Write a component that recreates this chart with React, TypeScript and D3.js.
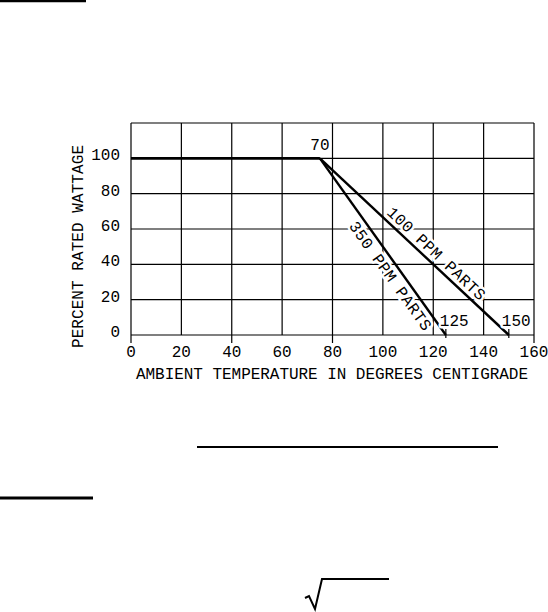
import React from "react";
import * as d3 from "d3";

// ---- data ----
const xTicks = [0, 20, 40, 60, 80, 100, 120, 140, 160];
const yTicks = [0, 20, 40, 60, 80, 100];
const xMajorTicks = [0, 40, 80, 160];
const flatX = [0, 75];
const flatY = [100, 100];
const ppm100X = [75, 150];
const ppm100Y = [100, 0];
const ppm350X = [75, 125];
const ppm350Y = [100, 0];
const kneeLabel = "70";
const end100Label = "150";
const end350Label = "125";
const ppm100Label = "100 PPM PARTS";
const ppm350Label = "350 PPM PARTS";
const xTitle = "AMBIENT TEMPERATURE IN DEGREES CENTIGRADE";
const yTitle = "PERCENT RATED WATTAGE";

const FONT = "'Liberation Mono', 'DejaVu Sans Mono', monospace";
const FS = 16;

export default function App() {
  const x = d3.scaleLinear().domain([0, 160]).range([131, 534]);
  const y = d3.scaleLinear().domain([0, 120]).range([335, 123]);
  const line = d3
    .line<[number, number]>()
    .x((d) => x(d[0]))
    .y((d) => y(d[1]));
  const zip = (a: number[], b: number[]) => a.map((v, i) => [v, b[i]] as [number, number]);

  const along = (xs: number[], ys: number[], t: number, d: number, side: 1 | -1) => {
    const x0 = x(xs[0]), y0 = y(ys[0]), x1 = x(xs[1]), y1 = y(ys[1]);
    const th = Math.atan2(y1 - y0, x1 - x0);
    const px = x0 + t * (x1 - x0), py = y0 + t * (y1 - y0);
    const cx = px + side * d * Math.sin(th);
    const cy = py - side * d * Math.cos(th);
    return { cx, cy, deg: (th * 180) / Math.PI };
  };
  const l100 = along(ppm100X, ppm100Y, 0.58, 10.5, 1);
  const l350 = along(ppm350X, ppm350Y, 0.63, 10.5, -1);

  const halo = { paintOrder: "stroke" as const, stroke: "#fff", strokeWidth: 5, strokeLinejoin: "round" as const };

  return (
    <svg
      width={548}
      height={612}
      style={{ position: "absolute", left: 0, top: 0, background: "#fff" }}
      fontFamily={FONT}
    >
      <rect width={548} height={612} fill="#fff" />
      {/* page decorations */}
      <line x1={0} x2={86} y1={1} y2={1} stroke="#000" strokeWidth={2.5} />
      <line x1={197} x2={498} y1={447} y2={447} stroke="#000" strokeWidth={2} />
      <line x1={0} x2={93} y1={498} y2={498} stroke="#000" strokeWidth={3} />
      <path d="M305,598 L309,596 L315,609 L322,579 L389,579" fill="none" stroke="#000" strokeWidth={2} />

      {/* grid */}
      {xTicks.map((t) => (
        <line key={"vx" + t} x1={x(t)} x2={x(t)} y1={y(120)} y2={y(0)} stroke="#000" strokeWidth={1.2} />
      ))}
      {yTicks.map((t) => (
        <line key={"hy" + t} x1={x(0)} x2={x(160)} y1={y(t)} y2={y(t)} stroke="#000" strokeWidth={1.2} />
      ))}
      <line x1={x(0)} x2={x(160)} y1={y(120)} y2={y(120)} stroke="#000" strokeWidth={1.2} />
      {xMajorTicks.map((t) => (
        <line key={"mt" + t} x1={x(t)} x2={x(t)} y1={y(0)} y2={y(0) + 8} stroke="#000" strokeWidth={1.2} />
      ))}

      {/* tick labels */}
      {xTicks.map((t) => (
        <text key={"xl" + t} x={x(t)} y={357} textAnchor="middle" fontSize={FS} fill="#000">
          {t}
        </text>
      ))}
      {yTicks.map((t) => (
        <text key={"yl" + t} x={120} y={y(t) + 2} textAnchor="end" fontSize={FS} fill="#000">
          {t}
        </text>
      ))}

      {/* axis titles */}
      <text x={136} y={379} fontSize={FS} textLength={392} lengthAdjust="spacing" fill="#000">
        {xTitle}
      </text>
      <text
        transform={`translate(83,348) rotate(-90)`}
        fontSize={FS}
        textLength={203}
        lengthAdjust="spacing"
        fill="#000"
      >
        {yTitle}
      </text>

      {/* line labels */}
      <text
        transform={`translate(${l100.cx},${l100.cy}) rotate(${l100.deg})`}
        textAnchor="middle"
        dy="0.35em"
        fontSize={FS}
        textLength={128}
        lengthAdjust="spacing"
        fill="#000"
        style={halo}
      >
        {ppm100Label}
      </text>
      <text
        transform={`translate(${l350.cx},${l350.cy}) rotate(${l350.deg})`}
        textAnchor="middle"
        dy="0.35em"
        fontSize={FS}
        textLength={130}
        lengthAdjust="spacing"
        fill="#000"
        style={halo}
      >
        {ppm350Label}
      </text>

      {/* data lines */}
      <path d={line(zip(flatX, flatY)) || ""} fill="none" stroke="#000" strokeWidth={2.6} />
      <path d={line(zip(ppm100X, ppm100Y)) || ""} fill="none" stroke="#000" strokeWidth={2.4} />
      <path d={line(zip(ppm350X, ppm350Y)) || ""} fill="none" stroke="#000" strokeWidth={2.4} />
      <line x1={x(ppm100X[1])} x2={x(ppm100X[1])} y1={y(0) - 6} y2={y(0) + 3} stroke="#000" strokeWidth={1.2} />
      <line x1={x(ppm350X[1])} x2={x(ppm350X[1])} y1={y(0) - 6} y2={y(0) + 3} stroke="#000" strokeWidth={1.2} />

      {/* value annotations */}
      <text x={x(flatX[1])} y={150} textAnchor="middle" fontSize={FS} fill="#000" style={halo}>
        {kneeLabel}
      </text>
      <text x={x(ppm350X[1]) - 6} y={326} textAnchor="start" fontSize={FS} fill="#000" style={halo}>
        {end350Label}
      </text>
      <text x={x(ppm100X[1]) - 7} y={326} textAnchor="start" fontSize={FS} fill="#000" style={halo}>
        {end100Label}
      </text>
    </svg>
  );
}
